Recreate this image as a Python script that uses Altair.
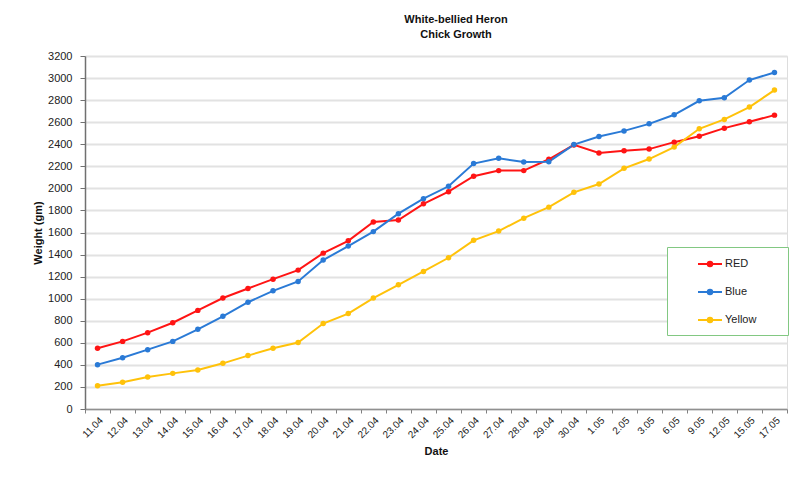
import altair as alt
import pandas as pd

dates = ["11.04", "12.04", "13.04", "14.04", "15.04", "16.04", "17.04", "18.04",
         "19.04", "20.04", "21.04", "22.04", "23.04", "24.04", "25.04", "26.04",
         "27.04", "28.04", "29.04", "30.04", "1.05", "2.05", "3.05", "6.05",
         "9.05", "12.05", "15.05", "17.05"]

red = [550, 613, 692, 782, 894, 1006, 1092, 1177, 1259, 1413, 1525, 1696, 1713, 1860,
       1970, 2110, 2161, 2161, 2264, 2394, 2321, 2342, 2356, 2419, 2473, 2546, 2604, 2664]
blue = [402, 465, 538, 613, 722, 840, 968, 1071, 1156, 1350, 1477, 1608, 1771, 1907,
        2019, 2225, 2273, 2239, 2242, 2397, 2470, 2521, 2585, 2667, 2794, 2821, 2982, 3051]
yellow = [211, 242, 290, 323, 353, 414, 484, 551, 602, 775, 865, 1006, 1126, 1247,
          1371, 1529, 1613, 1730, 1830, 1964, 2039, 2182, 2266, 2374, 2540, 2625, 2737, 2891]

series_names = ["RED", "Blue", "Yellow"]
series_colors = ["#ff1414", "#2a7ad6", "#ffc20a"]
y_ticks = list(range(0, 3201, 200))

rows = []
for name, vals in zip(series_names, [red, blue, yellow]):
    for d, v in zip(dates, vals):
        rows.append({"Date": d, "Weight": v, "Series": name})
df = pd.DataFrame(rows)

FONT = "Liberation Sans"

x_enc = alt.X(
    "Date:N", sort=dates, bandPosition=0.5,
    scale=alt.Scale(type="band", paddingInner=0, paddingOuter=0),
    axis=alt.Axis(
        title="Date", labelAngle=-45, labelFontSize=10, labelColor="#222222",
        tickBand="extent", tickSize=4, tickColor="#808080", domainColor="#909090",
        domainWidth=1.5, labelPadding=2, titleFontSize=11, titleFontWeight="bold",
        titlePadding=6, titleColor="#111111", grid=False, labelFont=FONT, titleFont=FONT,
    ),
)
y_enc = alt.Y(
    "Weight:Q",
    scale=alt.Scale(domain=[0, 3200], nice=False),
    axis=alt.Axis(
        title="Weight (gm)", values=y_ticks, format="d", labelFontSize=11,
        labelColor="#222222", tickSize=5, tickColor="#707070", domainColor="#707070",
        domainWidth=1.5, labelPadding=8, titleFontSize=11, titleFontWeight="bold",
        titlePadding=4, titleColor="#111111", gridColor="#e2e2e2", gridWidth=2,
        labelFont=FONT, titleFont=FONT,
    ),
)
color_enc = alt.Color(
    "Series:N",
    scale=alt.Scale(domain=series_names, range=series_colors),
    sort=series_names,
    legend=alt.Legend(
        title=None, orient="none", legendX=582, legendY=191,
        symbolType="M-1.5,0L1.5,0M-0.28,0a0.28,0.28 0 1,0 0.56,0a0.28,0.28 0 1,0 -0.56,0M8.2,0",
        symbolSize=256, symbolStrokeWidth=2, labelFontSize=11, labelColor="#222222",
        labelFont=FONT, rowPadding=12, padding=8, symbolOffset=26, labelOffset=6,
        strokeColor="#82c882", fillColor="white",
    ),
)

chart = alt.Chart(df).mark_line(
    strokeWidth=2,
    point=alt.OverlayMarkDef(filled=True, size=30, opacity=1),
).encode(x=x_enc, y=y_enc, color=color_enc).properties(
    width=702, height=353,
    title=alt.TitleParams(
        text=["White-bellied Heron", "Chick Growth"], fontSize=11, fontWeight="bold",
        font=FONT, color="#111111", anchor="middle", dx=20, offset=10, lineHeight=15,
    ),
    autosize=alt.AutoSizeParams(type="none"),
    padding={"left": 77, "top": 48, "right": 16, "bottom": 77},
).configure_view(stroke=None).configure(background="white")

chart.save("out.html", embed_options={"renderer": "svg", "actions": False})
